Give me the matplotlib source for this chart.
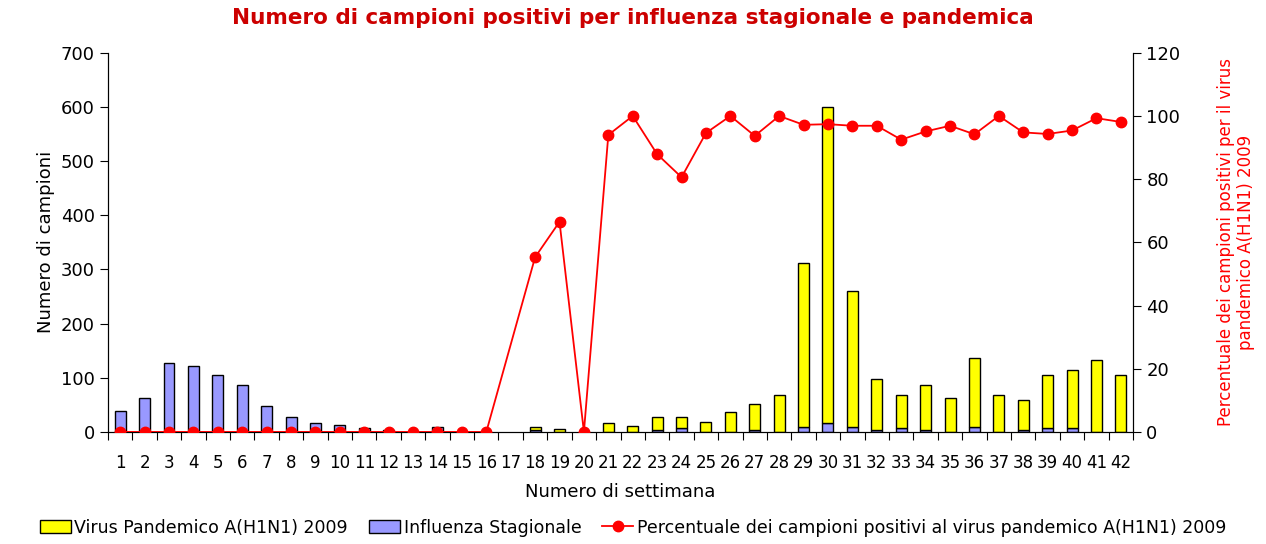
import numpy as np
import matplotlib
matplotlib.use("Agg")
import matplotlib.pyplot as plt

# settimane 1..42
settimane = list(range(1, 43))
# totale campioni positivi (altezza barra) e quota influenza stagionale
totale = [39, 63, 127, 122, 105, 86, 48, 28, 16, 12, 7, 3, 0, 9, 0, 0,
          0, 9, 6, 0, 16, 11, 27, 27, 19, 37, 52, 69, 312, 600,
          260, 97, 69, 86, 63, 137, 69, 59, 106, 115, 132, 106]
stagionale = [39, 63, 127, 122, 105, 86, 48, 28, 16, 12, 7, 3, 0, 9, 0, 0,
              0, 3, 0, 0, 0, 0, 4, 7, 0, 0, 3, 0, 9, 17,
              9, 4, 7, 4, 0, 9, 0, 4, 7, 7, 0, 0]
percentuale = [0, 0, 0, 0, 0, 0, 0, 0, 0, 0, 0, 0, 0, 0, 0, 0,
               None, 55.3, 66.5, 0, 94.0, 100, 87.9, 80.6, 94.6, 100, 93.7, 100, 97.2, 97.4,
               96.9, 96.9, 92.5, 95.1, 96.9, 94.2, 100, 94.8, 94.3, 95.4, 99.3, 98.1]

x = np.array(settimane)
stag = np.array(stagionale)
pand = np.array(totale) - stag

fig = plt.figure(figsize=(12.66, 5.44), dpi=100)
ax = fig.add_axes([0.0853, 0.206, 0.8097, 0.697])
w = 0.45
# le barre a zero non si disegnano (come in excel)
ms = stag > 0
mp = pand > 0
ax.bar(x[ms], stag[ms], width=w, color="#9999ff", edgecolor="black", linewidth=1.0, zorder=2,
       label="Influenza Stagionale")
ax.bar(x[mp], pand[mp], width=w, bottom=stag[mp], color="#ffff00", edgecolor="black", linewidth=1.0,
       zorder=2, label="Virus Pandemico A(H1N1) 2009")
ax.set_xlim(0.5, 42.5)
ax.set_ylim(0, 700)
ax.set_yticks(range(0, 701, 100))
ax.set_xticks(np.arange(0.5, 43, 1))
ax.set_xticklabels([])
ax.set_xticks(x, minor=True)
ax.set_xticklabels([str(s) for s in settimane], minor=True, fontsize=12)
ax.tick_params(axis="x", which="major", length=6, direction="out")
ax.tick_params(axis="x", which="minor", length=0, pad=16)
ax.tick_params(axis="y", labelsize=13, length=6)
ax.spines["top"].set_visible(False)
ax.set_ylabel("Numero di campioni", fontsize=13)
ax.set_xlabel("Numero di settimana", fontsize=13, labelpad=8)

ax2 = ax.twinx()
xp = [s for s, p in zip(settimane, percentuale) if p is not None]
yp = [p for p in percentuale if p is not None]
ax2.plot(xp, yp, color="red", marker="o", markersize=7.5, linewidth=1.3, zorder=3,
         label="Percentuale dei campioni positivi al virus pandemico A(H1N1) 2009")
ax2.set_ylim(0, 120)
ax2.set_yticks(range(0, 121, 20))
ax2.tick_params(axis="y", labelsize=13, length=6)
ax2.spines["top"].set_visible(False)
ax2.set_ylabel("Percentuale dei campioni positivi per il virus\npandemico A(H1N1) 2009",
               color="red", fontsize=12, labelpad=26)

fig.suptitle("Numero di campioni positivi per influenza stagionale e pandemica",
             color="#cc0000", fontsize=15.5, fontweight="bold", y=0.985)

h1, l1 = ax.get_legend_handles_labels()
h2, l2 = ax2.get_legend_handles_labels()
fig.legend([h1[1], h1[0], h2[0]], [l1[1], l1[0], l2[0]], loc="lower center", ncol=3,
           frameon=False, fontsize=12.5, bbox_to_anchor=(0.5, -0.015),
           handlelength=1.8, handletextpad=0.2, columnspacing=1.2)

fig.savefig("out.png", dpi=100)
